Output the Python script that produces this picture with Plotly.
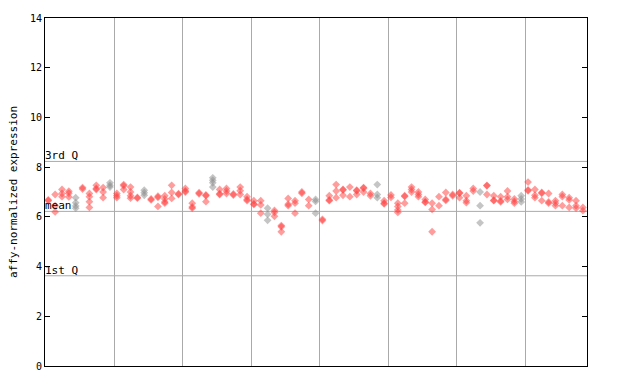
import plotly.graph_objects as go

# expression values per sample column (index 0..78)
columns = [
    [6.68, 6.65], [6.90, 6.45, 6.20], [7.10, 6.94, 6.81], [7.03, 6.95, 6.80],
    [6.77, 6.57, 6.44, 6.35], [7.18, 7.12], [6.94, 6.81, 6.61, 6.38], [7.27, 7.14, 7.10],
    [7.18, 7.00, 6.77], [7.37, 7.27, 7.20], [6.94, 6.85, 6.77], [7.30, 7.25, 7.10],
    [7.20, 7.00, 6.85, 6.75], [6.78, 6.75], [7.07, 6.97, 6.87], [6.72, 6.68],
    [6.83, 6.78, 6.42], [6.85, 6.72, 6.60, 6.55], [7.27, 6.98, 6.74], [6.93, 6.90],
    [7.14, 7.04, 7.00], [6.55, 6.40, 6.35], [6.97, 6.93], [6.88, 6.85, 6.61],
    [7.57, 7.47, 7.37, 7.20], [7.10, 6.93, 6.90], [7.14, 7.04, 6.94], [6.92, 6.88],
    [7.20, 7.05, 6.90], [6.81, 6.70, 6.65], [6.65, 6.52, 6.50], [6.65, 6.48, 6.15],
    [6.35, 6.10, 5.86], [6.26, 6.18, 6.02], [5.65, 5.60, 5.40], [6.74, 6.51, 6.45],
    [6.65, 6.55, 6.15], [7.00, 6.95], [6.70, 6.45], [6.70, 6.62, 6.15],
    [5.90, 5.85], [6.85, 6.68, 6.65], [7.30, 7.04, 6.77], [7.10, 7.08, 6.87],
    [7.20, 6.81], [7.07, 7.05, 6.90], [7.18, 7.15, 7.00], [6.94, 6.85],
    [7.30, 6.90, 6.77], [6.65, 6.55, 6.52], [6.88, 6.78], [6.55, 6.42, 6.28, 6.18],
    [6.85, 6.82, 6.55], [7.20, 7.10, 7.00], [7.00, 6.90, 6.81], [6.70, 6.60, 6.58],
    [6.55, 6.30, 5.40], [6.81, 6.45], [6.98, 6.70, 6.66], [6.90, 6.85],
    [6.97, 6.95, 6.77], [6.85, 6.65, 6.57], [7.14, 7.04], [7.00, 6.45, 5.76],
    [7.27, 7.25, 6.90], [6.85, 6.67, 6.65], [6.81, 6.64, 6.60], [7.04, 6.81, 6.70],
    [6.72, 6.62, 6.55], [6.85, 6.72, 6.60], [7.40, 7.08, 7.05], [7.10, 6.87, 6.77],
    [6.98, 6.95, 6.65], [6.94, 6.60, 6.55], [6.65, 6.55, 6.45], [6.90, 6.81, 6.45],
    [6.77, 6.68, 6.38], [6.65, 6.45, 6.35], [6.38, 6.25],
]
gray_columns = [4, 9, 14, 24, 32, 39, 48, 63, 69]

stat_values = [8.23, 6.22, 3.63]
stat_labels = ["3rd Q", "mean", "1st Q"]
group_bounds = [9.6, 19.6, 29.6, 39.6, 49.6, 59.6, 69.6]
y_ticks = [0, 2, 4, 6, 8, 10, 12, 14]

RED = "rgba(255,60,60,0.5)"
GRAY = "rgba(140,140,140,0.5)"

xr, yr, xg, yg = [], [], [], []
for i, vals in enumerate(columns):
    for v in vals:
        if i in gray_columns:
            xg.append(i); yg.append(v)
        else:
            xr.append(i); yr.append(v)

fig = go.Figure()
fig.add_trace(go.Scatter(x=xr, y=yr, mode="markers",
                         marker=dict(symbol="diamond", size=6, color=RED, line=dict(width=0)),
                         hoverinfo="y", showlegend=False))
fig.add_trace(go.Scatter(x=xg, y=yg, mode="markers",
                         marker=dict(symbol="diamond", size=6, color=GRAY, line=dict(width=0)),
                         hoverinfo="y", showlegend=False))

for v, lab in zip(stat_values, stat_labels):
    fig.add_shape(type="line", xref="paper", x0=0, x1=1, yref="y", y0=v, y1=v,
                  line=dict(color="#aaaaaa", width=1), layer="below")
    fig.add_annotation(xref="paper", x=0, y=v, yref="y", text=lab, showarrow=False,
                       xanchor="left", yanchor="bottom", xshift=-1, yshift=-2,
                       font=dict(family="DejaVu Sans Mono", size=11, color="#000"),
                       borderpad=0)

fig.update_layout(
    width=640, height=384,
    margin=dict(l=44, r=53, t=14, b=15),
    paper_bgcolor="white", plot_bgcolor="white",
    font=dict(family="DejaVu Sans Mono", size=9, color="#000"),
    xaxis=dict(range=[-0.48, 78.6], tickvals=group_bounds, showticklabels=False,
               ticks="", showgrid=True, gridcolor="#aaaaaa", gridwidth=1,
               showline=True, linecolor="#000", linewidth=1, mirror=True, zeroline=False,
               fixedrange=True),
    yaxis=dict(range=[0, 14], tickvals=y_ticks, ticks="inside", ticklen=5,
               tickcolor="#000", showgrid=False, zeroline=False,
               showline=True, linecolor="#000", linewidth=1, mirror="ticks",
               tickfont=dict(family="DejaVu Sans Mono", size=10),
               title=dict(text="affy-normalized expression", standoff=10,
                          font=dict(family="DejaVu Sans Mono", size=11)),
               fixedrange=True),
)

fig.write_html("out.html")
